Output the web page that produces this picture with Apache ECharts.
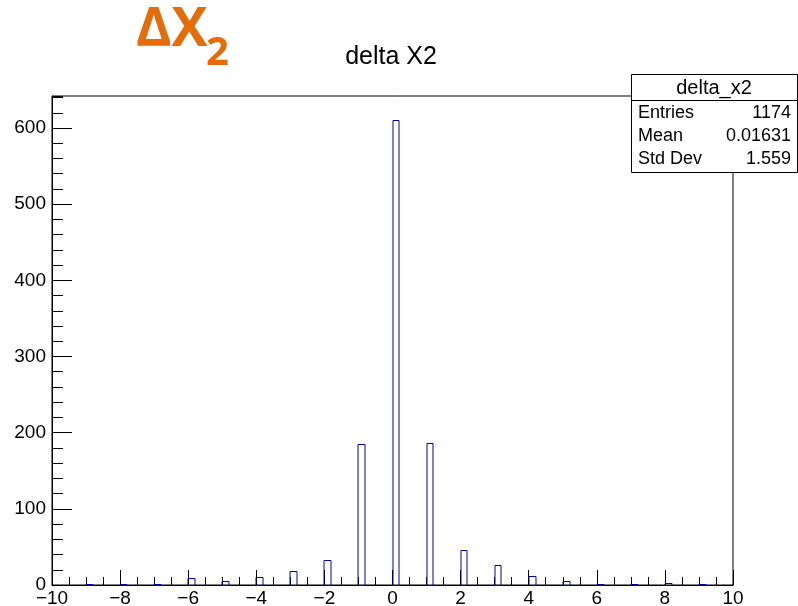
<!DOCTYPE html>
<html>
<head>
<meta charset="utf-8">
<script src="https://cdn.jsdelivr.net/npm/echarts@6/dist/echarts.min.js"></script>
<style>
  html, body { margin: 0; padding: 0; background: #fff; }
  #chart { width: 798px; height: 606px; }
</style>
</head>
<body>
<div id="chart"></div>
<script>
// histogram delta_x2 : bins of 0.2, only non-empty bins listed (left edge)
const binWidth = 0.2;
const binLefts = [-9, -8, -7, -6, -5, -4, -3, -2, -1, 0, 1, 2, 3, 4, 5, 6, 7, 8, 9];
const counts = [1, 1, 1, 9, 5, 11, 18, 33, 185, 611, 187, 46, 26, 12, 5, 1, 1, 2, 1];
const statLabels = ["Entries", "Mean", "Std Dev"];
const statValues = ["1174", "0.01631", "1.559"];

const font = "'Liberation Sans', Arial, sans-serif";
const lineColor = "#0000a8";

let myChart = echarts.init(document.getElementById("chart"));

let data = binLefts.map((x, i) => [x, counts[i]]);

// stats box
let statsGraphics = [
  {
    type: "rect",
    shape: { x: 631.5, y: 74.5, width: 166, height: 98 },
    style: { fill: "#fff", stroke: "#000", lineWidth: 1 },
    z: 100,
  },
  {
    type: "line",
    shape: { x1: 631.5, y1: 100.5, x2: 797.5, y2: 100.5 },
    style: { stroke: "#000", lineWidth: 1 },
    z: 101,
  },
  {
    type: "text",
    x: 714,
    y: 88,
    style: { text: "delta_x2", font: "20px " + font, fill: "#000", align: "center", verticalAlign: "middle" },
    z: 101,
  },
];
statLabels.forEach((lab, i) => {
  let y = 113 + i * 22.8;
  statsGraphics.push({
    type: "text",
    x: 638,
    y: y,
    style: { text: lab, font: "18px " + font, fill: "#000", align: "left", verticalAlign: "middle" },
    z: 101,
  });
  statsGraphics.push({
    type: "text",
    x: 791,
    y: y,
    style: { text: statValues[i], font: "18px " + font, fill: "#000", align: "right", verticalAlign: "middle" },
    z: 101,
  });
});

let option = {
  animation: false,
  backgroundColor: "#fff",
  grid: {
    left: 52,
    top: 96,
    width: 681,
    height: 489,
    show: true,
    borderColor: "#000",
    borderWidth: 1,
    outerBoundsMode: "none",
  },
  xAxis: {
    type: "value",
    min: -10,
    max: 10,
    interval: 2,
    axisLine: { show: true, onZero: false, lineStyle: { color: "#000", width: 1 } },
    axisTick: { show: true, inside: true, length: 15, lineStyle: { color: "#000" } },
    minorTick: { show: true, splitNumber: 4, length: 8, lineStyle: { color: "#000" } },
    splitLine: { show: false },
    axisLabel: {
      color: "#000",
      fontSize: 19,
      fontFamily: font,
      margin: 4,
      formatter: (v) => (v < 0 ? "\u2212" + Math.abs(v) : String(v)),
    },
  },
  yAxis: [
    {
      type: "value",
      min: 0,
      max: 642,
      interval: 100,
      axisLine: { show: true, onZero: false, lineStyle: { color: "#000", width: 1 } },
      axisTick: { show: true, inside: true, length: 20, lineStyle: { color: "#000" } },
      splitLine: { show: false },
      axisLabel: {
        color: "#000",
        fontSize: 19,
        fontFamily: font,
        margin: 6,
        showMaxLabel: false,
      },
    },
    {
      type: "value",
      position: "left",
      min: 0,
      max: 642,
      interval: 20,
      axisLine: { show: false, onZero: false },
      axisTick: { show: true, inside: true, length: 11, lineStyle: { color: "#000" } },
      splitLine: { show: false },
      axisLabel: { show: false },
    },
  ],
  series: [
    {
      type: "custom",
      name: "delta_x2",
      data: data,
      z: 5,
      renderItem: (params, api) => {
        let x0 = api.value(0);
        let v = api.value(1);
        let p0 = api.coord([x0, 0]);
        let p1 = api.coord([x0 + binWidth, v]);
        let left = Math.round(p0[0]);
        let right = Math.round(p1[0]);
        let top = Math.round(p1[1]) + 0.5;
        let bottom = Math.round(p0[1]) + 0.5;
        return {
          type: "rect",
          shape: { x: left, y: top, width: right - left, height: bottom - top },
          style: { fill: "none", stroke: lineColor, lineWidth: 1 },
        };
      },
    },
  ],
  graphic: [
    {
      type: "text",
      x: 391,
      y: 57,
      style: { text: "delta X2", font: "25px " + font, fill: "#000", align: "center", verticalAlign: "middle" },
    },
    {
      type: "text",
      x: 136,
      y: 31,
      style: { text: "\u0394X", font: "bold 54px 'Open Sans', sans-serif", fill: "#e46c0a", align: "left", verticalAlign: "middle" },
    },
    {
      type: "text",
      x: 206,
      y: 54,
      style: { text: "2", font: "bold 40px 'Open Sans', sans-serif", fill: "#e46c0a", align: "left", verticalAlign: "middle" },
    },
  ].concat(statsGraphics),
};

myChart.setOption(option);
</script>
</body>
</html>
